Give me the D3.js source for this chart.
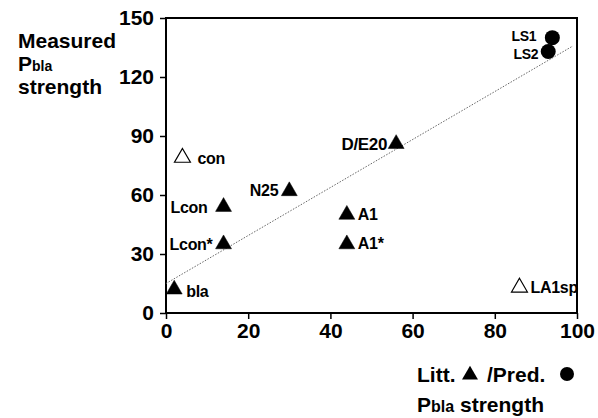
<!DOCTYPE html>
<html>
<head>
<meta charset="utf-8">
<script src="https://cdnjs.cloudflare.com/ajax/libs/d3/7.8.5/d3.min.js"></script>
<style>
  body { margin: 0; background: #fff; }
  text { font-family: "Liberation Sans", Arial, Helvetica, sans-serif; font-weight: bold; fill: #000; }
</style>
</head>
<body>
<div class="chart"></div>
<script>
var svgWidth = 598;
var svgHeight = 418;

// data
var names   = ["bla", "Lcon*", "Lcon", "N25", "A1", "A1*", "D/E20", "con", "LA1sp", "LS1", "LS2"];
var xValues = [2, 14, 14, 30, 44, 44, 56, 4, 86, 94, 93];
var yValues = [12, 35, 54, 62, 50, 35, 86, 79, 13, 140, 133];
var kinds   = ["tri", "tri", "tri", "tri", "tri", "tri", "tri", "open", "open", "dot", "dot"];
var xTicks = [0, 20, 40, 60, 80, 100];
var yTicks = [0, 30, 60, 90, 120, 150];
// fitted line (intercept, slope) and its x range
var fitLine = [15, 1.22];
var fitRange = [0, 99];

// label offsets from the mark centre [dx, dy, anchor, font size]
var labelPos = {
  "bla":   [12, 8, "start", 16],
  "Lcon*": [-11, 6, "end", 16],
  "Lcon":  [-16, 6, "end", 16],
  "N25":   [-11, 5, "end", 16],
  "A1":    [11, 5, "start", 16],
  "A1*":   [11, 5, "start", 16],
  "D/E20": [-9, 6, "end", 17],
  "con":   [15, 6, "start", 16],
  "LA1sp": [11, 6, "start", 16],
  "LS1":   [-16, 3.5, "end", 14],
  "LS2":   [-10, 7.5, "end", 14]
};

var svg = d3.select(".chart")
  .append("svg")
  .attr("width", svgWidth)
  .attr("height", svgHeight);

var x = d3.scaleLinear().domain([0, 100]).range([166, 577]);
var y = d3.scaleLinear().domain([0, 150]).range([313, 18]);

// axes
var xAxis = svg.append("g")
  .attr("transform", `translate(0, ${y(0)})`)
  .call(d3.axisBottom(x).tickValues(xTicks).tickSize(6).tickSizeOuter(0).tickPadding(4));
var yAxis = svg.append("g")
  .attr("transform", `translate(${x(0)}, 0)`)
  .call(d3.axisLeft(y).tickValues(yTicks).tickSize(6).tickSizeOuter(0).tickPadding(6));

[xAxis, yAxis].forEach(function(a) {
  a.select(".domain").remove();
  a.selectAll(".tick line").attr("stroke", "#000").attr("stroke-width", 1.5);
  a.selectAll(".tick text").style("font-size", "21px").attr("font-family", null);
});

// frame
svg.append("rect")
  .attr("x", x(0))
  .attr("y", y(150))
  .attr("width", x(100) - x(0))
  .attr("height", y(0) - y(150))
  .attr("fill", "none")
  .attr("stroke", "#000")
  .attr("stroke-width", 2);

// fitted dotted line
svg.append("line")
  .attr("x1", x(fitRange[0]))
  .attr("y1", y(fitLine[0] + fitLine[1] * fitRange[0]))
  .attr("x2", x(fitRange[1]))
  .attr("y2", y(fitLine[0] + fitLine[1] * fitRange[1]))
  .attr("stroke", "#666")
  .attr("stroke-width", 1)
  .attr("stroke-dasharray", "1.5,1.5");

var points = names.map(function(n, i) {
  return { name: n, x: xValues[i], y: yValues[i], kind: kinds[i] };
});

var tri = d3.symbol().type(d3.symbolTriangle).size(110);

svg.selectAll(".tri")
  .data(points.filter(d => d.kind !== "dot"))
  .enter()
  .append("path")
  .attr("d", tri)
  .attr("transform", d => `translate(${x(d.x)}, ${y(d.y)})`)
  .attr("fill", d => d.kind === "open" ? "#fff" : "#000")
  .attr("stroke", "#000")
  .attr("stroke-width", d => d.kind === "open" ? 1.2 : 0.5);

svg.selectAll(".dot")
  .data(points.filter(d => d.kind === "dot"))
  .enter()
  .append("circle")
  .attr("cx", d => x(d.x))
  .attr("cy", d => y(d.y))
  .attr("r", 7.5)
  .attr("fill", "#000");

svg.selectAll(".ptlabel")
  .data(points)
  .enter()
  .append("text")
  .attr("x", d => x(d.x) + labelPos[d.name][0])
  .attr("y", d => y(d.y) + labelPos[d.name][1])
  .attr("text-anchor", d => labelPos[d.name][2])
  .style("font-size", d => labelPos[d.name][3] + "px")
  .style("letter-spacing", "-0.3px")
  .text(d => d.name);

// y axis title
var yTitle = svg.append("g").style("font-size", "21px");
yTitle.append("text").attr("x", 18).attr("y", 48).text("Measured");
var pb = yTitle.append("text").attr("x", 18).attr("y", 71);
pb.append("tspan").text("P");
pb.append("tspan").style("font-size", "14px").text("bla");
yTitle.append("text").attr("x", 18).attr("y", 94).text("strength");

// x axis title with legend symbols
var xTitle = svg.append("g").style("font-size", "21px");
xTitle.append("text").attr("x", 417).attr("y", 382).text("Litt.");
xTitle.append("path")
  .attr("d", d3.symbol().type(d3.symbolTriangle).size(110))
  .attr("transform", "translate(470, 375)")
  .attr("fill", "#000");
xTitle.append("text").attr("x", 487).attr("y", 382).text("/Pred.");
xTitle.append("circle").attr("cx", 567).attr("cy", 374).attr("r", 7).attr("fill", "#000");
var pb2 = xTitle.append("text").attr("x", 417).attr("y", 412);
pb2.append("tspan").text("P");
pb2.append("tspan").style("font-size", "16px").text("bla");
pb2.append("tspan").text(" strength");
</script>
</body>
</html>
